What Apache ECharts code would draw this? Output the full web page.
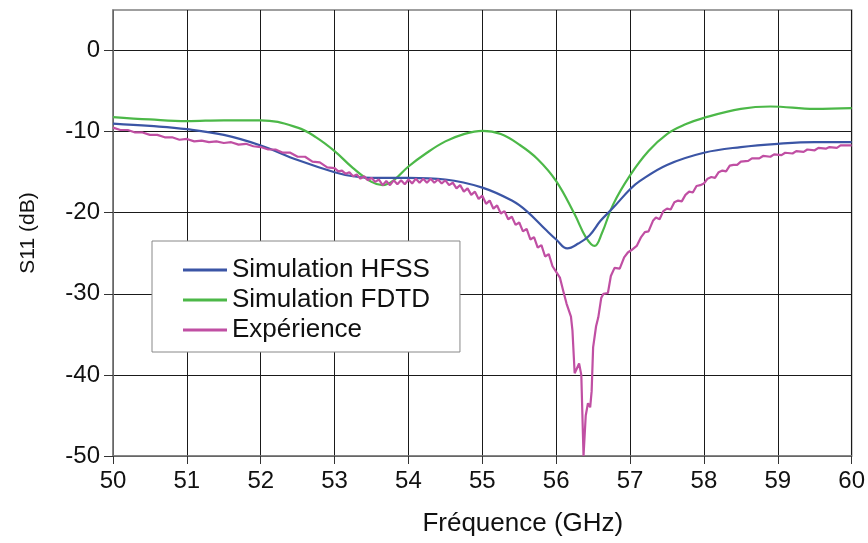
<!DOCTYPE html>
<html><head><meta charset="utf-8">
<script src="https://cdn.jsdelivr.net/npm/echarts@6/dist/echarts.min.js"></script>
<style>html,body{margin:0;padding:0;background:#fff}#c{width:868px;height:543px}</style>
</head><body><div id="c"></div>
<script>
const seriesNames = ['Simulation HFSS', 'Simulation FDTD', 'Expérience'];
const xTicks = [50, 51, 52, 53, 54, 55, 56, 57, 58, 59, 60];
const yTicks = [-50, -40, -30, -20, -10, 0];

const hfss = [[50.0,-9.0],[50.5,-9.3],[51.0,-9.7],[51.5,-10.4],[52.0,-11.7],[52.5,-13.5],[53.0,-15.0],[53.25,-15.5],[53.5,-15.7],[54.0,-15.7],[54.5,-15.9],[55.0,-16.9],[55.4,-18.5],[55.6,-19.8],[55.87,-22.2],[56.0,-23.3],[56.15,-24.4],[56.3,-23.8],[56.45,-22.8],[56.6,-21.0],[56.77,-19.4],[57.0,-17.1],[57.13,-16.1],[57.5,-14.1],[58.0,-12.6],[58.5,-11.9],[59.0,-11.5],[59.5,-11.3],[60.0,-11.3]];

const fdtd = [[50.0,-8.2],[50.5,-8.5],[51.0,-8.7],[51.5,-8.6],[52.0,-8.6],[52.5,-9.5],[52.75,-10.7],[53.0,-12.4],[53.25,-14.5],[53.5,-16.2],[53.65,-16.6],[53.8,-16.0],[54.0,-14.3],[54.25,-12.6],[54.5,-11.2],[54.75,-10.3],[55.0,-9.9],[55.25,-10.3],[55.5,-11.6],[55.75,-13.4],[56.0,-16.1],[56.25,-20.2],[56.4,-23.0],[56.52,-24.1],[56.62,-22.5],[56.77,-19.0],[57.0,-15.4],[57.25,-12.4],[57.5,-10.3],[57.75,-9.1],[58.0,-8.3],[58.5,-7.2],[58.9,-6.9],[59.5,-7.2],[60.0,-7.1]];

const experience = [[50.0,-9.5],[50.1,-9.8],[50.2,-9.8],[50.3,-10.1],[50.4,-10.1],[50.5,-10.4],[50.6,-10.4],[50.7,-10.7],[50.8,-10.7],[50.9,-11.0],[51.0,-10.9],[51.1,-11.2],[51.2,-11.1],[51.3,-11.3],[51.4,-11.2],[51.5,-11.4],[51.6,-11.3],[51.7,-11.6],[51.8,-11.5],[51.9,-11.8],[52.0,-11.9],[52.1,-12.2],[52.2,-12.2],[52.3,-12.6],[52.4,-12.6],[52.5,-13.1],[52.6,-13.1],[52.7,-13.7],[52.8,-13.8],[52.9,-14.4],
[53.00,-14.5],[53.05,-14.9],[53.10,-14.8],[53.15,-15.2],[53.20,-15.0],[53.25,-15.5],[53.30,-15.3],[53.35,-15.8],[53.40,-15.5],[53.45,-16.0],[53.50,-15.7],[53.55,-16.2],[53.60,-15.9],[53.65,-16.6],[53.70,-16.1],[53.75,-16.6],[53.80,-16.0],[53.85,-16.5],[53.90,-16.0],[53.95,-16.5],[54.00,-15.9],[54.05,-16.4],[54.10,-15.8],[54.15,-16.3],[54.20,-15.8],[54.25,-16.3],[54.30,-15.8],[54.35,-16.3],[54.40,-15.9],[54.45,-16.4],[54.50,-16.0],[54.55,-16.6],[54.60,-16.3],[54.65,-17.0],[54.70,-16.6],[54.75,-17.4],[54.80,-17.0],[54.85,-17.8],[54.90,-17.4],[54.95,-18.3],[55.00,-17.9],[55.05,-18.9],[55.10,-18.5],[55.15,-19.5],[55.20,-19.1],[55.25,-20.1],[55.30,-19.8],[55.35,-20.8],[55.40,-20.5],[55.45,-21.5],[55.50,-21.2],[55.55,-22.3],[55.60,-22.0],[55.65,-23.3],[55.70,-23.0],[55.75,-24.3],[55.80,-24.0],[55.85,-25.4],[55.90,-25.1],[55.95,-26.6],
[56.00,-27.3],[56.05,-28.0],[56.10,-29.8],[56.14,-31.2],[56.20,-32.8],[56.22,-34.5],[56.25,-39.8],[56.28,-39.2],[56.31,-38.6],[56.34,-40.0],[56.37,-50.0],[56.40,-45.0],[56.43,-43.5],[56.46,-44.0],[56.48,-42.0],[56.50,-36.6],[56.54,-34.0],[56.57,-32.9],[56.61,-30.5],[56.64,-30.0],[56.70,-29.9],[56.74,-27.8],[56.79,-26.8],[56.86,-26.9],[56.92,-25.5],[56.97,-24.9],[57.02,-24.6],[57.09,-24.1],[57.15,-23.0],[57.20,-22.4],[57.25,-22.3],[57.31,-21.0],[57.35,-20.6],[57.40,-20.8],[57.45,-19.8],[57.50,-19.5],[57.55,-19.6],[57.60,-18.7],[57.65,-18.5],[57.70,-18.6],[57.75,-17.8],[57.80,-17.4],[57.85,-17.5],[57.90,-16.7],[57.95,-16.6],[58.00,-16.4],[58.05,-15.8],[58.10,-15.6],[58.15,-15.7],[58.20,-15.0],[58.25,-14.8],[58.30,-14.9],[58.35,-14.2],[58.40,-14.1],[58.45,-14.1],[58.50,-13.7],[58.60,-13.6],[58.65,-13.3],[58.75,-13.3],[58.80,-13.0],[58.90,-13.1],[58.95,-12.8],[59.05,-12.9],[59.10,-12.6],[59.20,-12.7],[59.25,-12.4],[59.35,-12.5],[59.40,-12.2],[59.50,-12.3],[59.55,-12.0],[59.65,-12.1],[59.70,-11.9],[59.80,-12.0],[59.85,-11.7],[60.00,-11.7]];

const colors = ['#3b55a5', '#4cb848', '#c04fa3'];
const FONT = 'Liberation Sans, Arial, sans-serif';
const chart = echarts.init(document.getElementById('c'), null, {renderer: 'canvas'});
chart.setOption({
  animation: false,
  backgroundColor: '#fff',
  color: colors,
  grid: {left: 113, right: 16, top: 10, bottom: 87, show: true, borderColor: '#808080', borderWidth: 1.5, backgroundColor: 'transparent'},
  legend: {
    orient: 'vertical', left: 152, top: 241,
    padding: [16, 30, 9, 31], itemGap: 4,
    backgroundColor: '#fff', borderColor: '#888', borderWidth: 1, borderRadius: 0,
    itemWidth: 44, itemHeight: 3, icon: 'rect',
    textStyle: {fontFamily: FONT, fontSize: 26, color: '#111', lineHeight: 26},
    data: seriesNames
  },
  xAxis: {
    type: 'value', min: 50, max: 60, interval: 1,
    name: 'Fréquence (GHz)', nameLocation: 'middle', nameGap: 55,
    nameTextStyle: {fontFamily: FONT, fontSize: 26, color: '#111', padding: [0, 0, 0, 81]},
    axisLine: {show: true, onZero: false, lineStyle: {color: '#808080', width: 1.5}},
    axisTick: {show: true, inside: false, length: 8, lineStyle: {color: '#333'}},
    axisLabel: {fontFamily: FONT, fontSize: 24, color: '#111', margin: 13},
    splitLine: {show: true, lineStyle: {color: '#1a1a1a', width: 1}}
  },
  yAxis: {
    type: 'value', min: -50, max: 5, interval: 10,
    name: 'S11 (dB)', nameLocation: 'middle', nameGap: 74, nameRotate: 90,
    nameTextStyle: {fontFamily: FONT, fontSize: 21, color: '#111'},
    axisLine: {show: true, onZero: false, lineStyle: {color: '#808080', width: 1.5}},
    axisTick: {show: true, inside: false, length: 9, customValues: yTicks, lineStyle: {color: '#333'}},
    axisLabel: {fontFamily: FONT, fontSize: 24, color: '#111', margin: 13, customValues: yTicks},
    splitLine: {show: true, lineStyle: {color: '#1a1a1a', width: 1}}
  },
  series: [
    {name: seriesNames[0], type: 'line', data: hfss, smooth: 0.4, showSymbol: false, lineStyle: {width: 2.2, color: colors[0]}, z: 3},
    {name: seriesNames[1], type: 'line', data: fdtd, smooth: 0.4, showSymbol: false, lineStyle: {width: 2.2, color: colors[1]}, z: 2},
    {name: seriesNames[2], type: 'line', data: experience, smooth: false, showSymbol: false, lineStyle: {width: 2.2, color: colors[2]}, z: 4}
  ]
});
</script></body></html>
